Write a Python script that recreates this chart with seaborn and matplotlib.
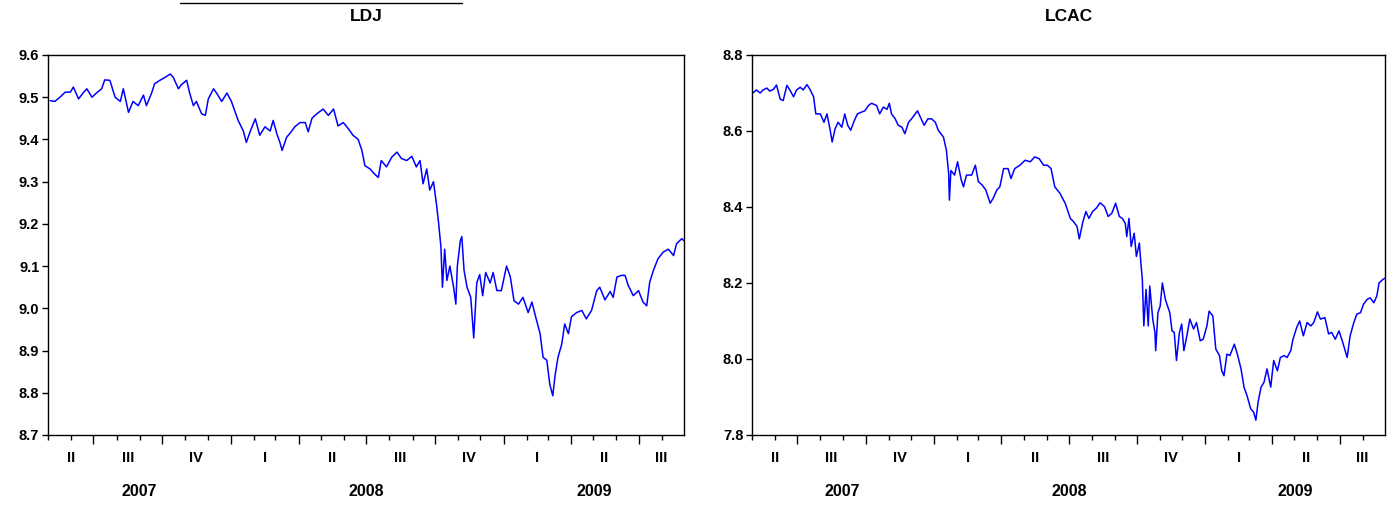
import matplotlib
matplotlib.use("Agg")
import matplotlib.pyplot as plt
import matplotlib.dates as mdates
from matplotlib.ticker import MultipleLocator, FormatStrFormatter, NullFormatter
from matplotlib.lines import Line2D
import seaborn as sns
import pandas as pd

# sample range shown on both panels
start = pd.Timestamp("2007-05-01")
end = pd.Timestamp("2009-08-31")

# LDJ: days after start
ldj_day = [3, 9, 16, 23, 30, 34, 41, 47, 52, 59, 65, 72, 76, 83, 90, 97, 101, 108, 114, 121,
           128, 132, 139, 143, 150, 157, 164, 168, 175, 179, 186, 190, 195, 199, 206, 211, 215,
           222, 226, 233, 240, 246, 251, 255, 262, 266, 271, 278, 284, 291, 298, 302, 307, 311,
           314, 320, 327, 331, 338, 345, 349, 354, 360, 369, 376, 383, 389, 396, 403, 409, 416,
           421, 425, 432, 438, 443, 447, 454, 461, 468, 474, 481, 488, 494, 499, 503, 508, 512,
           517, 521, 524, 527, 529, 532, 535, 539, 544, 547, 549, 553, 555, 558, 562, 567, 571,
           575, 579, 583, 587, 593, 597, 602, 608, 615, 620, 625, 631, 637, 644, 649, 654, 660,
           664, 669, 673, 677, 680, 684, 689, 693, 698, 702, 709, 716, 722, 729, 736, 740, 747,
           754, 758, 763, 769, 774, 778, 785, 792, 798, 803, 807, 812, 818, 825, 832, 839, 843,
           850, 853]
ldj = [9.492, 9.490, 9.500, 9.512, 9.512, 9.524, 9.496, 9.510, 9.520, 9.500, 9.510, 9.520,
       9.541, 9.540, 9.500, 9.490, 9.520, 9.464, 9.490, 9.480, 9.505, 9.480, 9.510, 9.532,
       9.540, 9.547, 9.555, 9.547, 9.520, 9.530, 9.540, 9.510, 9.480, 9.490, 9.461, 9.457,
       9.496, 9.520, 9.510, 9.490, 9.510, 9.490, 9.465, 9.445, 9.420, 9.393, 9.418, 9.449,
       9.410, 9.430, 9.420, 9.445, 9.413, 9.393, 9.374, 9.405, 9.420, 9.430, 9.440, 9.440,
       9.418, 9.450, 9.460, 9.472, 9.457, 9.472, 9.432, 9.440, 9.425, 9.410, 9.400, 9.374,
       9.338, 9.330, 9.318, 9.310, 9.350, 9.335, 9.358, 9.370, 9.355, 9.350, 9.360, 9.335,
       9.350, 9.295, 9.330, 9.280, 9.300, 9.247, 9.200, 9.145, 9.050, 9.140, 9.066, 9.100,
       9.050, 9.010, 9.100, 9.160, 9.170, 9.090, 9.050, 9.026, 8.930, 9.060, 9.080, 9.030,
       9.085, 9.060, 9.085, 9.042, 9.042, 9.100, 9.075, 9.018, 9.010, 9.026, 8.990, 9.015,
       8.980, 8.940, 8.884, 8.877, 8.820, 8.793, 8.840, 8.884, 8.915, 8.963, 8.940, 8.980,
       8.990, 8.995, 8.975, 8.995, 9.042, 9.050, 9.020, 9.040, 9.026, 9.074, 9.078, 9.078,
       9.055, 9.030, 9.042, 9.015, 9.006, 9.062, 9.090, 9.117, 9.133, 9.140, 9.125, 9.153,
       9.165, 9.160]

# LCAC
lcac_day = [2, 6, 11, 15, 20, 24, 29, 33, 38, 42, 47, 51, 56, 60, 65, 69, 74, 78, 83, 86, 92,
            97, 101, 105, 108, 112, 116, 121, 125, 129, 133, 138, 142, 148, 152, 157, 161, 168,
            172, 177, 182, 185, 188, 193, 197, 202, 206, 211, 215, 220, 223, 228, 232, 237, 242,
            247, 251, 258, 262, 265, 266, 268, 273, 277, 282, 285, 289, 296, 301, 305, 310, 315,
            321, 325, 330, 334, 339, 345, 349, 354, 361, 368, 375, 381, 387, 393, 398, 403, 408,
            415, 422, 429, 433, 438, 441, 446, 450, 454, 459, 464, 469, 475, 480, 485, 490, 495,
            499, 503, 505, 508, 511, 515, 518, 522, 524, 526, 528, 531, 534, 536, 540, 543, 544,
            547, 550, 553, 557, 560, 563, 566, 569, 572, 576, 579, 582, 586, 590, 595, 599, 604,
            608, 613, 616, 621, 625, 630, 633, 636, 640, 644, 650, 654, 659, 663, 667, 672, 676,
            679, 682, 686, 690, 694, 699, 703, 708, 712, 717, 721, 726, 729, 734, 738, 743, 748,
            753, 757, 762, 766, 772, 777, 781, 786, 791, 796, 800, 802, 806, 811, 815, 820, 824,
            829, 833, 838, 842, 845, 850, 853]
lcac = [8.701, 8.708, 8.700, 8.708, 8.713, 8.705, 8.710, 8.721, 8.684, 8.680, 8.720, 8.708,
        8.690, 8.708, 8.715, 8.708, 8.722, 8.710, 8.690, 8.645, 8.645, 8.623, 8.645, 8.606,
        8.571, 8.606, 8.623, 8.610, 8.645, 8.615, 8.602, 8.628, 8.645, 8.650, 8.653, 8.667,
        8.673, 8.667, 8.645, 8.663, 8.657, 8.673, 8.645, 8.632, 8.615, 8.610, 8.593, 8.623,
        8.632, 8.645, 8.653, 8.632, 8.615, 8.632, 8.632, 8.623, 8.602, 8.584, 8.549, 8.488,
        8.418, 8.496, 8.484, 8.519, 8.471, 8.453, 8.484, 8.484, 8.510, 8.467, 8.458, 8.445,
        8.410, 8.423, 8.445, 8.453, 8.501, 8.501, 8.475, 8.501, 8.510, 8.523, 8.519, 8.532,
        8.527, 8.510, 8.510, 8.501, 8.453, 8.436, 8.410, 8.370, 8.362, 8.349, 8.316, 8.362,
        8.388, 8.370, 8.388, 8.397, 8.411, 8.401, 8.375, 8.384, 8.410, 8.375, 8.370, 8.357,
        8.322, 8.370, 8.296, 8.331, 8.270, 8.305, 8.253, 8.209, 8.087, 8.183, 8.087, 8.192,
        8.105, 8.070, 8.022, 8.122, 8.139, 8.200, 8.157, 8.139, 8.122, 8.074, 8.070, 7.996,
        8.070, 8.092, 8.022, 8.061, 8.105, 8.079, 8.096, 8.048, 8.052, 8.087, 8.126, 8.113,
        8.026, 8.009, 7.969, 7.956, 8.013, 8.009, 8.039, 8.013, 7.974, 7.926, 7.904, 7.869,
        7.860, 7.839, 7.887, 7.926, 7.939, 7.974, 7.926, 7.996, 7.969, 8.004, 8.009, 8.004,
        8.022, 8.052, 8.083, 8.100, 8.061, 8.096, 8.087, 8.096, 8.124, 8.105, 8.109, 8.066,
        8.070, 8.052, 8.074, 8.044, 8.018, 8.004, 8.061, 8.096, 8.118, 8.122, 8.144, 8.157,
        8.161, 8.148, 8.166, 8.200, 8.209, 8.213]

quarter_labels = ["II", "III", "IV", "I", "II", "III", "IV", "I", "II", "III"]
year_labels = ["2007", "2008", "2009"]

sns.set_style("ticks")
plt.rcParams["font.family"] = ["Liberation Sans", "DejaVu Sans"]
plt.rcParams["font.weight"] = "bold"
plt.rcParams["text.color"] = "black"
plt.rcParams["xtick.color"] = "black"
plt.rcParams["ytick.color"] = "black"
plt.rcParams["xtick.labelcolor"] = "black"
plt.rcParams["ytick.labelcolor"] = "black"

W, H = 1397, 505
fig = plt.figure(figsize=(W / 100, H / 100), dpi=100)
ax1 = fig.add_axes([48 / W, 1 - 435 / H, 636 / W, 380 / H])
ax2 = fig.add_axes([752 / W, 1 - 435 / H, 633 / W, 380 / H])


def draw(ax, days, vals, title, lo, hi, step):
    df = pd.DataFrame({"date": start + pd.to_timedelta(days, unit="D"), "value": vals})
    sns.lineplot(data=df, x="date", y="value", ax=ax, color="blue", linewidth=1.1)
    ax.set_xlim(start, end)
    ax.set_ylim(lo, hi)
    ax.set_xlabel("")
    ax.set_ylabel("")
    ax.yaxis.set_major_locator(MultipleLocator(step))
    ax.yaxis.set_major_formatter(FormatStrFormatter("%.1f"))
    ax.xaxis.set_major_locator(mdates.MonthLocator(bymonth=[1, 4, 7, 10]))
    ax.xaxis.set_minor_locator(mdates.MonthLocator())
    ax.xaxis.set_major_formatter(NullFormatter())
    ax.tick_params(axis="x", which="major", length=6.5, width=1, direction="out", color="black")
    ax.tick_params(axis="x", which="minor", length=3.6, width=1, direction="out", color="black")
    ax.tick_params(axis="y", length=4.3, width=1, direction="out", color="black",
                   labelsize=10.5, labelcolor="black", pad=2)
    for lab in ax.get_yticklabels():
        lab.set_fontweight("bold")
    for sp in ax.spines.values():
        sp.set_visible(True)
        sp.set_color("black")
        sp.set_linewidth(1)

    # quarter labels, centred in the visible part of each quarter
    quarters = pd.period_range("2007Q2", "2009Q3", freq="Q")
    for p, lab in zip(quarters, quarter_labels):
        s = max(start, p.start_time)
        e = min(end, p.end_time)
        mid = s + (e - s) / 2
        ax.annotate(lab, xy=(mdates.date2num(mid), 0), xycoords=("data", "axes fraction"),
                    xytext=(0, -16.5), textcoords="offset points", ha="center", va="center",
                    fontsize=10.5, fontweight="bold", color="black")
    for yr in year_labels:
        s = max(start, pd.Timestamp(yr + "-01-01"))
        e = min(end, pd.Timestamp(yr + "-12-31"))
        mid = s + (e - s) / 2
        ax.annotate(yr, xy=(mdates.date2num(mid), 0), xycoords=("data", "axes fraction"),
                    xytext=(0, -40.5), textcoords="offset points", ha="center", va="center",
                    fontsize=11.5, fontweight="bold", color="black")
    ax.annotate(title, xy=(0.5, 1), xycoords="axes fraction", xytext=(0, 28),
                textcoords="offset points", ha="center", va="center",
                fontsize=12.5, fontweight="bold", color="black")


draw(ax1, ldj_day, ldj, "LDJ", 8.7, 9.6, 0.1)
draw(ax2, lcac_day, lcac, "LCAC", 7.8, 8.8, 0.2)

# stray rule above the left title
fig.add_artist(Line2D([180 / W, 462 / W], [1 - 3 / H, 1 - 3 / H], color="black", linewidth=1))

fig.savefig("out.png", dpi=100)
